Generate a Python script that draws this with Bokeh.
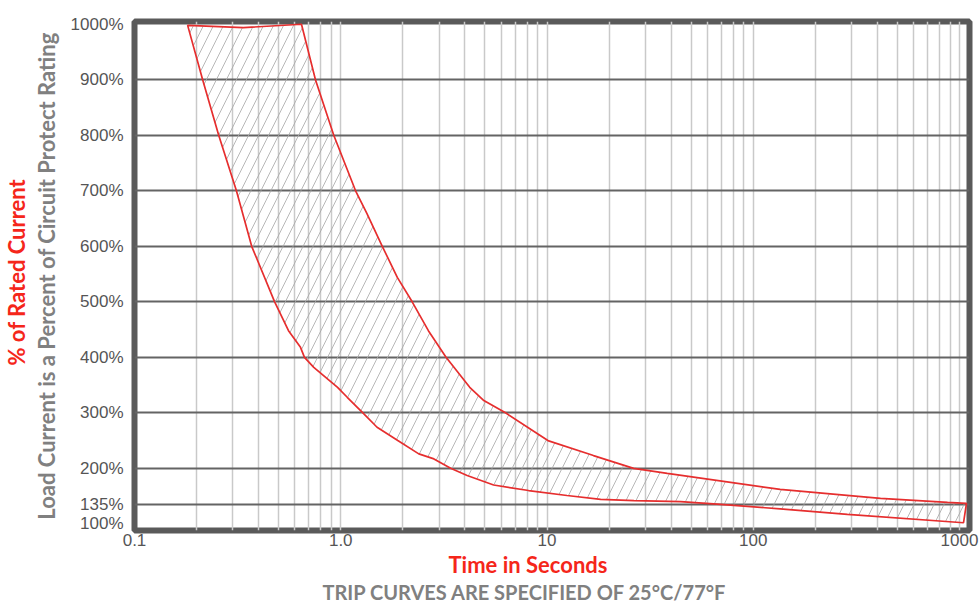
from bokeh.plotting import figure
from bokeh.models import FixedTicker, Range1d, Title
from bokeh.embed import file_html
from bokeh.resources import INLINE

# ---- data ----
# fast (left / lower) trip curve, from top to bottom
lower_time = [0.181, 0.214, 0.256, 0.312, 0.370, 0.478, 0.558, 0.638, 0.667, 0.740,
              0.965, 1.075, 1.28, 1.50, 1.89, 2.39, 2.83, 3.41, 4.10, 5.51,
              8.14, 12.5, 18.2, 26.4, 44.4, 64.2, 135, 286, 1046]
lower_pct = [998, 900, 800, 700, 600, 500, 448, 418, 400, 382,
             346, 328, 300, 274, 250, 226, 217, 200, 187, 170,
             160, 151, 144, 142, 140, 136, 127, 117, 102]
# slow (right / upper) trip curve, from top to bottom
upper_time = [0.645, 0.754, 0.925, 1.18, 1.34, 1.59, 1.88, 2.22, 2.66, 3.24,
              4.22, 4.94, 6.29, 10.1, 16.8, 26.3, 38.3, 135, 414, 875, 1081]
upper_pct = [1000, 900, 800, 700, 659, 600, 544, 500, 448, 400,
             346, 322, 300, 250, 223, 200, 191, 162, 146, 138.5, 137]
# top edge of the band (slight sag between the two curves)
top_time = [0.337]
top_pct = [994]

x_ticks = [0.1, 1, 10, 100, 1000]
x_tick_labels = {0.1: "0.1", 1: "1.0", 10: "10", 100: "100", 1000: "1000"}
y_ticks = [100, 135, 200, 300, 400, 500, 600, 700, 800, 900, 1000]
y_tick_labels = {v: f"{v}%" for v in y_ticks}
y_grid = [135, 200, 300, 400, 500, 600, 700, 800, 900]

# ---- figure ----
p = figure(width=979, height=610, x_axis_type="log",
           x_range=Range1d(0.1, 1118), y_range=Range1d(88, 1005),
           output_backend="svg", toolbar_location=None,
           min_border_left=134, min_border_right=10,
           min_border_top=21, min_border_bottom=80)
p.background_fill_color = "white"
p.border_fill_color = "white"
p.outline_line_color = "#5a5a5a"
p.outline_line_width = 6

# grids
minor_x = [m * 10.0 ** k for k in range(-1, 3) for m in range(2, 10)]
p.xgrid.ticker = FixedTicker(ticks=x_ticks, minor_ticks=minor_x)
p.xgrid.grid_line_color = "#c9c9c9"
p.xgrid.grid_line_width = 1.5
p.xgrid.minor_grid_line_color = "#c9c9c9"
p.xgrid.minor_grid_line_width = 1.5
p.ygrid.ticker = FixedTicker(ticks=y_grid)
p.ygrid.grid_line_color = "#646464"
p.ygrid.grid_line_width = 1.8

# axes
for ax in (p.xaxis[0], p.yaxis[0]):
    ax.axis_line_color = None
    ax.major_tick_line_color = None
    ax.minor_tick_line_color = None
    ax.major_tick_out = 0
    ax.minor_tick_out = 0
    ax.major_label_text_font = "Liberation Sans"
    ax.major_label_text_font_size = "17px"
    ax.major_label_text_color = "#555555"
p.xaxis.ticker = FixedTicker(ticks=x_ticks, minor_ticks=[])
p.xaxis.major_label_overrides = x_tick_labels
p.xaxis.major_label_standoff = 3
p.xaxis.axis_label = None
p.xaxis.axis_label_standoff = 0
p.yaxis.ticker = FixedTicker(ticks=y_ticks, minor_ticks=[])
p.yaxis.major_label_overrides = y_tick_labels
p.yaxis.major_label_standoff = 11

# y axis titles
p.yaxis.axis_label = "Load Current is a Percent of Circuit Protect Rating"
p.yaxis.axis_label_text_font = "Lato"
p.yaxis.axis_label_text_font_style = "bold"
p.yaxis.axis_label_text_font_size = "22px"
p.yaxis.axis_label_text_line_height = 1.0
p.yaxis.axis_label_text_color = "#808080"
p.yaxis.axis_label_standoff = 8
p.add_layout(Title(text="% of Rated Current", align="left", offset=165, text_font="Lato",
                   text_font_style="bold", text_font_size="22px",
                   text_color="#f5261a", standoff=0), "left")

# x axis titles
p.add_layout(Title(text="Time in Seconds", align="left", offset=314, text_font="Lato",
                   text_font_style="bold", text_font_size="22px",
                   text_color="#f5261a", standoff=0), "below")
p.add_layout(Title(text="TRIP CURVES ARE SPECIFIED OF 25°C/77°F", align="left",
                   offset=188, text_font="Lato", text_font_style="bold",
                   text_font_size="20px", text_color="#808080", standoff=0), "below")

# ---- band between the two trip curves ----
band_x = lower_time + upper_time[::-1] + top_time
band_y = lower_pct + upper_pct[::-1] + top_pct
p.patch(band_x, band_y, fill_color="white", fill_alpha=0,
        hatch_pattern="/", hatch_color="#a6a6a6", hatch_scale=20, hatch_weight=0.8,
        line_color="#e62e2e", line_width=1.7)

open("out.html", "w").write(file_html(p, INLINE))
